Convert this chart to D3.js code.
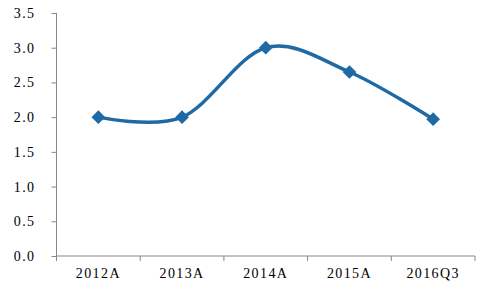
<!DOCTYPE html>
<html lang="en">
<head>
    <meta charset="UTF-8">
    <title>Line Chart</title>
    <style>
        body {
            margin: 0;
            padding: 0;
            background-color: #fff;
        }
        .axis text {
            font-family: 'Liberation Serif', serif;
            font-size: 14px;
            letter-spacing: 1.4px;
            fill: #000;
        }
        .axis path, .axis line {
            stroke: #888;
        }
    </style>
</head>
<body>
    <div id="chart"></div>

    <script src="https://d3js.org/d3.v7.min.js"></script>
    <script>
        const categories = ["2012A", "2013A", "2014A", "2015A", "2016Q3"];
        const values = [2.0, 2.0, 3.0, 2.65, 1.97];
        const yTicks = [0, 0.5, 1.0, 1.5, 2.0, 2.5, 3.0, 3.5];

        const W = 482, H = 288;
        const margin = { top: 13, right: 7, bottom: 32, left: 56.5 };
        const width = W - margin.left - margin.right;
        const height = H - margin.top - margin.bottom;

        const svg = d3.select("#chart").append("svg")
            .attr("width", W)
            .attr("height", H)
            .append("g")
            .attr("transform", `translate(${margin.left},${margin.top})`);

        const x = d3.scaleBand()
            .domain(categories)
            .range([0, width]);

        const y = d3.scaleLinear()
            .domain([0, 3.5])
            .range([height, 0]);

        // y axis
        svg.append("g")
            .attr("class", "axis")
            .call(d3.axisLeft(y).tickValues(yTicks).tickSize(5).tickPadding(16).tickFormat(d3.format(".1f")))
            .call(g => g.select(".domain").attr("d", `M0,0V${height}`));

        // x axis, ticks sit on the band boundaries
        const xAxis = svg.append("g")
            .attr("class", "axis")
            .attr("transform", `translate(0,${height})`)
            .call(d3.axisBottom(x).tickSize(0).tickPadding(12))
            .call(g => g.select(".domain").attr("d", `M0,0H${width}`));

        xAxis.selectAll(".sep")
            .data(categories)
            .enter().append("line")
            .attr("class", "sep")
            .attr("x1", d => x(d) + x.bandwidth())
            .attr("x2", d => x(d) + x.bandwidth())
            .attr("y1", 0)
            .attr("y2", 5)
            .attr("stroke", "#888");

        xAxis.append("line")
            .attr("x1", 0).attr("x2", 0)
            .attr("y1", 0).attr("y2", 5)
            .attr("stroke", "#888");

        const data = categories.map((c, i) => ({ c, v: values[i] }));

        const line = d3.line()
            .x(d => x(d.c) + x.bandwidth() / 2)
            .y(d => y(d.v))
            .curve(d3.curveCardinal.tension(0));

        svg.append("path")
            .datum(data)
            .attr("fill", "none")
            .attr("stroke", "#1F6AA5")
            .attr("stroke-width", 3.5)
            .attr("d", line);

        svg.selectAll(".pt")
            .data(data)
            .enter().append("path")
            .attr("class", "pt")
            .attr("d", d3.symbol().type(d3.symbolDiamond2).size(120))
            .attr("transform", d => `translate(${x(d.c) + x.bandwidth() / 2},${y(d.v)})`)
            .attr("fill", "#1F6AA5");
    </script>
</body>
</html>
